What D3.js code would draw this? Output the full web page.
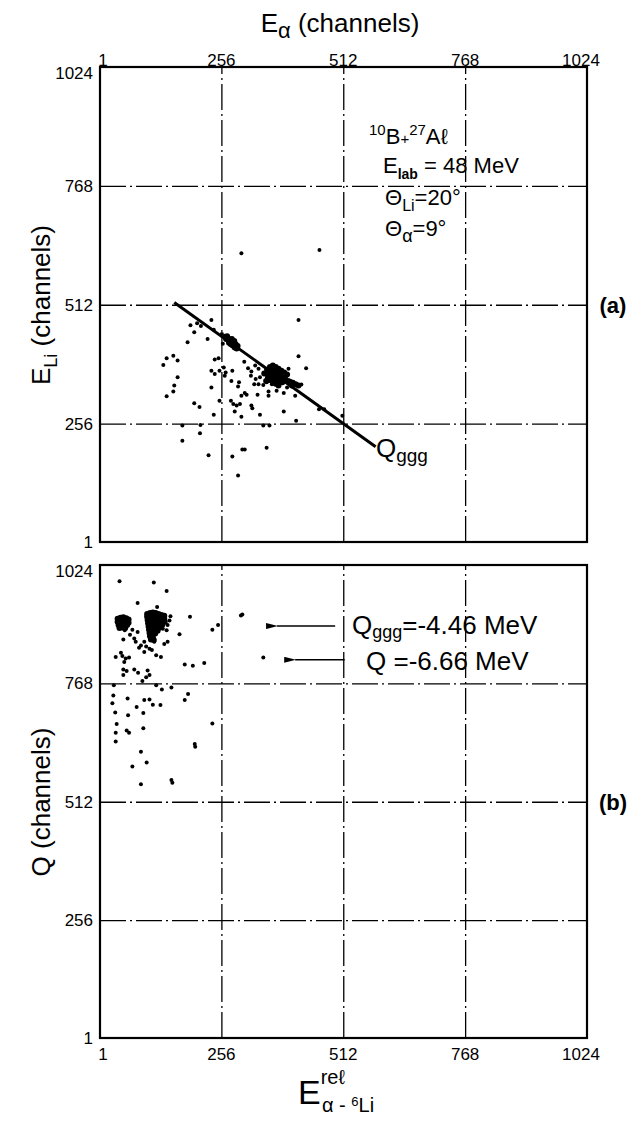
<!DOCTYPE html>
<html>
<head>
<meta charset="utf-8">
<script src="https://cdn.jsdelivr.net/npm/d3@7"></script>
<style>
  body { margin: 0; background: #fff; }
  svg text { font-family: "Liberation Sans", Arial, sans-serif; fill: #000; }
</style>
</head>
<body>
<div id="chart"></div>
<script>
// channel ticks, same on every axis
let tickValues = [1, 256, 512, 768, 1024];
let gridValues = [256, 512, 768];

// panel (a): E_alpha vs E_Li, single events
let aPoints = [
  [191,468],[199,453],[205,472],[213,466],[235,479],[240,458],[185,431],[227,438],
  [418,479],[418,401],[434,375],[397,374],[298,623],[462,630],
  [141,397],[155,402],[164,392],[134,382],[164,356],[157,338],[155,325],[141,315],
  [242,394],[250,397],[235,370],[242,363],[252,370],[261,377],[265,366],[263,359],
  [279,370],[277,348],[293,345],[291,336],[235,334],[304,389],[312,375],[319,368],
  [327,381],[334,374],[318,359],[328,352],[337,356],[325,341],[334,341],[344,339],
  [351,345],[353,356],[362,341],[372,327],[387,322],[394,334],[411,341],[424,340],
  [411,316],[355,325],[355,316],[332,318],[309,318],[305,322],[298,316],[276,305],
  [281,298],[288,295],[295,298],[252,305],[199,300],[210,292],[240,275],[284,282],
  [298,271],[319,295],[321,289],[337,275],[387,282],[413,262],[461,287],[472,287],
  [510,273],[174,252],[212,253],[211,235],[174,219],[229,188],[279,185],[300,200],
  [305,200],[351,204],[291,144],[344,252],[357,252],[257,449],[263,445],[259,428]
];
// panel (a): dense groups along the Q_ggg line
let aBlobPoints = [
  [266,438],[270,440],[274,436],[278,433],[282,430],[286,427],[290,423],[272,430],
  [276,427],[280,424],[284,420],[288,418],[278,438],[283,434],[268,444],
  [352,372],[358,378],[364,381],[370,378],[376,374],[382,370],[388,366],[394,362],
  [356,366],[362,370],[368,368],[374,364],[380,360],[386,356],[360,360],[366,356],
  [372,352],[378,348],[384,345],[354,356],[364,346],[370,342],[390,352],[396,348],
  [358,350],[376,338],[346,364],[350,348],
  [400,346],[406,344],[412,341],[418,338],[404,338]
];
// kinematic line Q_ggg in panel (a)
let qgggLine = [[157,517],[580,206]];

// panel (b): E_rel vs Q, single events
let bPoints = [
  [42,989],[114,986],[141,968],[80,942],[121,933],
  [149,913],[147,904],[143,894],[141,883],[133,886],[190,912],[168,874],[237,884],
  [249,894],[297,915],[300,917],[344,824],
  [53,883],[69,884],[80,879],[64,873],[50,863],[73,865],[76,858],[87,850],[83,845],
  [94,858],[98,848],[105,843],[110,840],[94,836],[115,858],[136,853],[143,858],
  [45,834],[34,825],[48,827],[55,822],[62,824],[52,814],[119,829],[129,825],
  [179,809],[196,806],[220,812],[50,798],[57,795],[73,798],[81,791],[101,796],
  [50,786],[98,781],[105,786],[90,773],[30,764],[119,764],[131,755],[151,759],
  [186,745],[179,732],[29,742],[27,725],[59,735],[94,732],[105,733],[112,722],
  [128,721],[78,717],[33,705],[60,699],[92,704],[36,680],[34,661],[57,666],[62,661],
  [92,671],[34,642],[237,681],[200,637],[201,631],[87,620],[99,597],[69,588],
  [87,550],[151,559],[153,553]
];
// panel (b): the two dense groups near Q_ggg
let bBlobPoints = [
  [100,918],[106,920],[112,921],[118,920],[124,918],[130,916],[136,914],
  [100,912],[106,913],[112,914],[118,913],[124,912],[130,910],[136,908],
  [101,905],[107,906],[113,907],[119,906],[125,905],[131,903],[137,901],
  [102,898],[108,899],[114,900],[120,899],[126,897],[132,895],
  [103,891],[109,892],[115,893],[121,891],[127,889],
  [104,884],[110,885],[116,884],[122,882],
  [105,877],[111,877],[117,876],[106,870],[112,869],[108,863],[114,862],
  [38,908],[44,910],[50,911],[56,909],[61,906],[38,901],[44,903],[50,904],
  [56,902],[61,899],[40,894],[46,896],[52,897],[58,894],[42,888],[48,889],[54,888]
];
// arrows in panel (b): [x from, x to, y]
let arrowQggg = [495, 373, 892];
let arrowQ = [515, 411, 819];

let svgWidth = 639;
let svgHeight = 1123;

let svg = d3.select("#chart")
  .append("svg")
  .attr("width", svgWidth)
  .attr("height", svgHeight);

let defs = svg.append("defs");
defs.append("marker")
  .attr("id", "head")
  .attr("viewBox", "0 0 12 6")
  .attr("refX", 1).attr("refY", 3)
  .attr("markerWidth", 12).attr("markerHeight", 6)
  .attr("markerUnits", "userSpaceOnUse")
  .attr("orient", "auto")
  .append("path")
  .attr("d", "M12,0 L0,3 L12,6 Z");

let x = d3.scaleLinear().domain([1, 1024]).range([100, 587]);
let yA = d3.scaleLinear().domain([1, 1024]).range([542, 67]);
let yB = d3.scaleLinear().domain([1, 1024]).range([1038, 565]);

function drawPanel(y, pts, blobs) {
  let g = svg.append("g");
  let top = y(1024), bottom = y(1);

  // dash-dot grid
  g.append("g")
    .attr("transform", `translate(0,${bottom})`)
    .call(d3.axisBottom(x).tickValues(gridValues).tickSize(-(bottom - top)).tickFormat(""))
    .call(s => s.select(".domain").remove())
    .selectAll("line")
    .attr("stroke", "#000").attr("stroke-width", 1.3)
    .attr("stroke-dasharray", "26,4,2,4");

  g.append("g")
    .attr("transform", `translate(${x(1)},0)`)
    .call(d3.axisLeft(y).tickValues(gridValues).tickSize(-(x(1024) - x(1))).tickFormat(""))
    .call(s => s.select(".domain").remove())
    .selectAll("line")
    .attr("stroke", "#000").attr("stroke-width", 1.3)
    .attr("stroke-dasharray", "26,4,2,4");

  // frame
  g.append("rect")
    .attr("x", x(1)).attr("y", top)
    .attr("width", x(1024) - x(1)).attr("height", bottom - top)
    .attr("fill", "none").attr("stroke", "#000").attr("stroke-width", 2.2);

  // left tick labels
  g.selectAll(".ylab").data(tickValues).enter()
    .append("text")
    .attr("x", x(1) - 7)
    .attr("y", d => y(d) + (d === 1024 ? 12 : 6))
    .attr("text-anchor", "end")
    .style("font-size", "17px")
    .text(d => d);

  g.selectAll(".dot").data(pts).enter()
    .append("circle")
    .attr("cx", d => x(d[0])).attr("cy", d => y(d[1]))
    .attr("r", 2).attr("fill", "#000");

  g.selectAll(".blob").data(blobs).enter()
    .append("circle")
    .attr("cx", d => x(d[0])).attr("cy", d => y(d[1]))
    .attr("r", 3).attr("fill", "#000");

  return g;
}

let gA = drawPanel(yA, aPoints, aBlobPoints);
let gB = drawPanel(yB, bPoints, bBlobPoints);

// top axis labels
svg.append("g").selectAll("text").data(tickValues).enter()
  .append("text")
  .attr("x", d => d === 1 ? x(d) + 3 : x(d) - (d === 1024 ? 6 : 0))
  .attr("y", 66)
  .attr("text-anchor", "middle")
  .style("font-size", "17px")
  .text(d => d);

// bottom axis labels
svg.append("g").selectAll("text").data(tickValues).enter()
  .append("text")
  .attr("x", d => d === 1 ? x(d) + 3 : x(d) - (d === 1024 ? 6 : 0))
  .attr("y", 1060)
  .attr("text-anchor", "middle")
  .style("font-size", "17px")
  .text(d => d);

// top title
let title = svg.append("text")
  .attr("x", 340).attr("y", 32)
  .attr("text-anchor", "middle")
  .style("font-size", "26px");
title.append("tspan").text("E");
title.append("tspan").attr("dy", 6).style("font-size", "22px").text("α");
title.append("tspan").attr("dy", -6).text(" (channels)");

// y labels
let yLabA = svg.append("text")
  .attr("transform", "translate(50,305) rotate(-90)")
  .attr("text-anchor", "middle")
  .style("font-size", "26px");
yLabA.append("tspan").text("E");
yLabA.append("tspan").attr("dy", 7).style("font-size", "18px").text("Li");
yLabA.append("tspan").attr("dy", -7).text(" (channels)");

svg.append("text")
  .attr("transform", "translate(50,802) rotate(-90)")
  .attr("text-anchor", "middle")
  .style("font-size", "26px")
  .text("Q (channels)");

// panel tags
svg.append("text").attr("x", 613).attr("y", yA(512) + 8)
  .attr("text-anchor", "middle").style("font-size", "22px").style("font-weight", "bold")
  .text("(a)");
svg.append("text").attr("x", 613).attr("y", yB(512) + 8)
  .attr("text-anchor", "middle").style("font-size", "22px").style("font-weight", "bold")
  .text("(b)");

// reaction info, panel (a)
let info = gA.append("text").style("font-size", "22px");
let l1 = info.append("tspan").attr("x", 369).attr("y", 144);
l1.append("tspan").attr("dy", -9).style("font-size", "15px").text("10");
l1.append("tspan").attr("dy", 9).text("B");
l1.append("tspan").style("font-size", "15px").text("+");
l1.append("tspan").attr("dy", -9).style("font-size", "15px").text("27");
l1.append("tspan").attr("dy", 9).text("Aℓ");
let l2 = info.append("tspan").attr("x", 383).attr("y", 173);
l2.append("tspan").text("E");
l2.append("tspan").attr("dy", 6).style("font-size", "14px").style("font-weight", "bold").text("lab");
l2.append("tspan").attr("dy", -6).text(" = 48 MeV");
let l3 = info.append("tspan").attr("x", 385).attr("y", 205);
l3.append("tspan").text("Θ");
l3.append("tspan").attr("dy", 6).style("font-size", "16px").text("Li");
l3.append("tspan").attr("dy", -6).text("=20°");
let l4 = info.append("tspan").attr("x", 385).attr("y", 236);
l4.append("tspan").text("Θ");
l4.append("tspan").attr("dy", 6).style("font-size", "18px").text("α");
l4.append("tspan").attr("dy", -6).text("=9°");

// Q_ggg line, panel (a)
gA.append("line")
  .attr("x1", x(qgggLine[0][0])).attr("y1", yA(qgggLine[0][1]))
  .attr("x2", x(qgggLine[1][0])).attr("y2", yA(qgggLine[1][1]))
  .attr("stroke", "#000").attr("stroke-width", 3);

let qa = gA.append("text").attr("x", 376).attr("y", 457).style("font-size", "26px");
qa.append("tspan").text("Q");
qa.append("tspan").attr("dy", 5).style("font-size", "19px").text("ggg");

// arrows and labels, panel (b)
[arrowQggg, arrowQ].forEach(a => {
  gB.append("line")
    .attr("x1", x(a[0])).attr("y1", yB(a[2]))
    .attr("x2", x(a[1])).attr("y2", yB(a[2]))
    .attr("stroke", "#000").attr("stroke-width", 1.6)
    .attr("marker-end", "url(#head)");
});

let qb1 = gB.append("text").attr("x", 352).attr("y", 634).style("font-size", "26px");
qb1.append("tspan").text("Q");
qb1.append("tspan").attr("dy", 4).style("font-size", "18px").text("ggg");
qb1.append("tspan").attr("dy", -4).text("=-4.46 MeV");

gB.append("text").attr("x", 366).attr("y", 670).style("font-size", "26px")
  .text("Q =-6.66 MeV");

// bottom label
let xl = svg.append("text").attr("x", 298).attr("y", 1104).style("font-size", "34px");
xl.append("tspan").text("E");
xl.append("tspan").attr("dy", -20).style("font-size", "20px").text("reℓ");
xl.append("tspan").attr("x", 322).attr("dy", 28).style("font-size", "20px").text("α - ");
xl.append("tspan").attr("dy", -6).style("font-size", "13px").text("6");
xl.append("tspan").attr("dy", 6).style("font-size", "20px").text("Li");
</script>
</body>
</html>
